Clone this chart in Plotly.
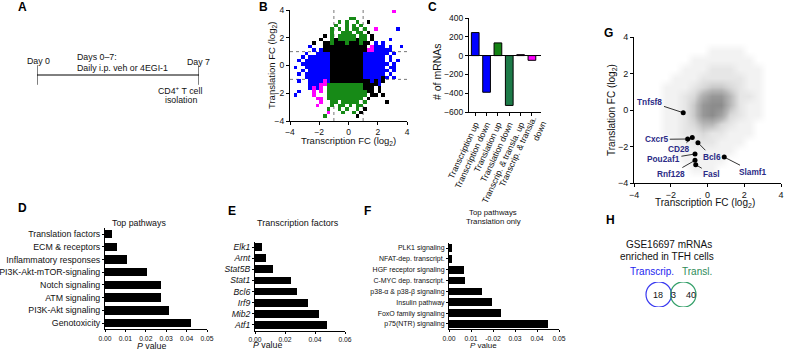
import plotly.graph_objects as go

W, H = 785, 351
FONT = "Liberation Sans, Arial, sans-serif"
TXT = "#111111"

# ------------------------------------------------------------------ data
A_DAYS = [0, 7]

# Panel B: binned scatter (0.25 log2 bins, x -4..4 left->right, y 4..-4 top->bottom)
# k = not changed, b = transcription, g = translation, m = both
B_BIN = 0.25
B_GRID = [
    "............................m...",
    "................................",
    "................gg..............",
    ".............g.g..g..k..........",
    "............g..g.g.g............",
    "...........g.g.g.gg.g..m.....b..",
    "...........g..ggg.gg.k..........",
    ".........k.g.ggggg.gg.k.........",
    "........k..gkgggggkgg.k....b....",
    "......k..kkgkkkgkkkgkk.b.b......",
    ".....b...kkkkkkkkkkkk.mbbb.b..b.",
    "......b.bkkkkkkkkkkkkmmbbbbb....",
    "....b..bbbbkkkkkkkkkbbbbbbb.b...",
    "...b.bbbbbbkkkkkkkkkbbbbbb.b....",
    "..b.bbbbbbbkkkkkkkkkbbbbbb.b.b..",
    "...bbbbbbbbkkkkkkkkkbbbbbbb.b...",
    ".b..bbbbbbbkkkkkkkkkbbbbbb.bb...",
    "...b.bbbbbbkkkkkkkkkbbbbbbb.b...",
    "..b.bbbbbbbkkkkkkkkkbbbbbb.b....",
    "....bbbbbbbkkkkkkkkkbbbbbkb.b...",
    "..b..bbbbmbkkkkkkkkkkkbkbk......",
    ".....bbbmmggggggggggkkkkb.......",
    ".....bmbm.ggggggggggkkk.k.......",
    "..b...m.m.gggggggggggkk.k.......",
    ".b....m...ggggggggggg.kk.k......",
    ".......mm.gggggggggg.k..........",
    "........m..gg.ggggg.g.....k.....",
    ".......m...g.gg.g.gg............",
    "..........g..g.g..g.k...........",
    "..........m...g..g.k............",
    ".........g........k.............",
    "................................",
]
B_CODES = {"k": 1, "b": 2, "g": 3, "m": 4}
B_THRESH = [-1, 1]

C_CATS = ["Transcription up", "Transcription down", "Translation up",
          "Translation down", "Transcrip. & transla. up",
          "Transcrip. & transla.<br>down"]
C_VALS = [245, -390, 135, -530, 10, -50]
C_COLORS = ["#0000ff", "#0000ff", "#138213", "#1d7a48", "#b022b0", "#ff00ff"]

D_CATS = ["Translation factors", "ECM & receptors", "Inflammatory responses",
          "PI3K-Akt-mTOR-signaling", "Notch signaling", "ATM signaling",
          "PI3K-Akt signaling", "Genotoxicity"]
D_VALS = [0.0034, 0.0061, 0.0107, 0.0205, 0.0275, 0.0275, 0.0316, 0.0421]

E_CATS = ["Elk1", "Arnt", "Stat5B", "Stat1", "Bcl6", "Irf9", "Mib2", "Atf1"]
E_VALS = [0.0049, 0.0076, 0.0118, 0.0240, 0.0278, 0.0353, 0.0427, 0.0478]

F_CATS = ["PLK1 signaling", "NFAT-dep. transcript.", "HGF receptor signaling",
          "C-MYC dep. transcript.", "p38-\u03b1 & p38-\u03b2 signaling",
          "Insulin pathway", "FoxO family signaling", "p75(NTR) signaling"]
F_VALS = [0.0014, 0.0014, 0.0068, 0.0074, 0.0152, 0.0194, 0.0238, 0.0452]
F_TICKVALS = [0, 0.01, 0.02, 0.03, 0.04, 0.05]
F_TICKTEXT = ["0.00", "0.01", "-0.02", "0.03", "0.04", "0.05"]

# Panel G: density of all mRNAs (0.5 log2 bins; rows y 3.75..-3.75, cols x -3.75..3.75)
G_DENSITY = [
    [0, 0, 0, 0, 0, 0, 0, 0, 0, 0, 0, 0, 0, 0, 0, 0],
    [0, 0, 0, 0, 0, 0, 0, 0, 1, 1, 1, 1, 0, 0, 0, 0],
    [0, 0, 0, 0, 0, 0, 1, 1, 1, 1, 1, 1, 1, 0, 0, 0],
    [0, 0, 0, 0, 0, 1, 1, 1, 2, 2, 2, 1, 1, 1, 0, 0],
    [0, 0, 0, 0, 1, 1, 1, 2, 2, 2, 2, 2, 1, 1, 0, 0],
    [0, 0, 0, 1, 1, 1, 2, 3, 4, 4, 3, 2, 1, 1, 0, 0],
    [0, 0, 0, 1, 1, 2, 3, 6, 8, 8, 5, 2, 2, 1, 0, 0],
    [0, 0, 0, 1, 1, 2, 4, 8, 9, 9, 5, 2, 1, 1, 0, 0],
    [0, 0, 0, 1, 1, 2, 4, 8, 9, 7, 3, 2, 1, 1, 0, 0],
    [0, 0, 0, 1, 1, 2, 3, 5, 5, 3, 2, 1, 1, 0, 0, 0],
    [0, 0, 0, 1, 1, 2, 2, 3, 2, 2, 1, 1, 1, 0, 0, 0],
    [0, 0, 0, 0, 1, 1, 2, 2, 2, 1, 1, 1, 0, 0, 0, 0],
    [0, 0, 0, 0, 1, 1, 1, 1, 1, 1, 1, 0, 0, 0, 0, 0],
    [0, 0, 0, 0, 0, 1, 1, 1, 1, 1, 0, 0, 0, 0, 0, 0],
    [0, 0, 0, 0, 0, 0, 1, 1, 1, 0, 0, 0, 0, 0, 0, 0],
    [0, 0, 0, 0, 0, 0, 0, 0, 0, 0, 0, 0, 0, 0, 0, 0],
]
G_BIN = 0.5
G_GENES = ["Tnfsf8", "Cxcr5", "CD28", "Bcl6", "Pou2af1", "Rnf128", "Fasl", "Slamf1"]
G_TX = [-1.32, -1.08, -0.83, -0.52, -0.68, -0.68, -0.64, 0.91]
G_TL = [-0.15, -1.59, -1.50, -1.79, -2.41, -2.76, -3.00, -2.58]

H_SETS = ["Transcrip.", "Transl."]
H_COUNTS = [18, 3, 40]

# ------------------------------------------------------------------ helpers
def xd(a, b):
    return [a / W, b / W]


def yd(top, bottom):
    return [1 - bottom / H, 1 - top / H]


def px(x):
    return x / W


def py(y):
    return 1 - y / H


def ax(**kw):
    base = dict(showgrid=False, zeroline=False, showline=True, linecolor="black",
                linewidth=1, ticks="outside", ticklen=3, tickwidth=1,
                tickcolor="black", fixedrange=True, automargin=False,
                tickfont=dict(size=8.5, color=TXT, family=FONT))
    base.update(kw)
    return base


def hid(**kw):
    base = dict(visible=False, fixedrange=True, automargin=False)
    base.update(kw)
    return base


fig = go.Figure()
ann = []
shapes = []

# ------------------------------------------------------------------ A
fig.add_trace(go.Scatter(x=A_DAYS, y=[0, 0], mode="lines+markers",
                         line=dict(color="black", width=1),
                         marker=dict(symbol="line-ns", size=14,
                                     line=dict(color="black", width=1)),
                         xaxis="x", yaxis="y", hoverinfo="skip"))
a_txt = [
    ("Day 0", 0.05, 0.47, "center"),
    ("i.p Ova alum", -0.39, -0.43, "left"),
    ("Days 0\u20137:", 1.64, 0.60, "left"),
    ("Daily i.p. veh or 4EGI-1", 1.64, 0.23, "left"),
    ("Day 7", 6.96, 0.43, "center"),
    ("Analysis", 7.09, 0.0, "left"),
    ("CD4<sup>+</sup> T cell", 6.18, -0.50, "center"),
    ("isolation", 6.22, -0.83, "center"),
]
for t, x, y, anc in a_txt:
    ann.append(dict(text=t, x=x, y=y, xref="x", yref="y", xanchor=anc,
                    yanchor="middle", showarrow=False,
                    font=dict(size=8.8, color=TXT, family=FONT)))

# ------------------------------------------------------------------ B
b_rows = [r.ljust(32, ".")[:32] for r in B_GRID]
b_z = [[B_CODES.get(ch) for ch in row] for row in reversed(b_rows)]
b_edges = [-4 + B_BIN * i for i in range(33)]
fig.add_trace(go.Heatmap(z=b_z, x=b_edges, y=b_edges, zmin=1, zmax=4,
                         colorscale=[[0, "#000000"], [1 / 3, "#0000ff"],
                                     [2 / 3, "#178a17"], [1, "#ff00ff"]],
                         showscale=False, hoverinfo="skip", zsmooth=False,
                         xaxis="x2", yaxis="y2"))
for t in B_THRESH:
    shapes.append(dict(type="line", xref="x2", yref="y2", x0=t, x1=t, y0=-4, y1=4,
                       line=dict(color="#777777", width=1, dash="dot"), layer="below"))
    shapes.append(dict(type="line", xref="x2", yref="y2", x0=-4, x1=4, y0=t, y1=t,
                       line=dict(color="#777777", width=1, dash="dot"), layer="below"))

# ------------------------------------------------------------------ C
fig.add_trace(go.Bar(x=list(range(len(C_VALS))), y=C_VALS, width=0.68,
                     marker=dict(color=C_COLORS, line=dict(color="black", width=1)),
                     xaxis="x3", yaxis="y3", hoverinfo="skip"))
# last (two-line) category label drawn as a rotated text block
c_ticktext = C_CATS[:-1] + [""]
ann.append(dict(text=C_CATS[-1], x=px(522), y=py(154), xref="paper", yref="paper",
                showarrow=False, textangle=-65, align="right",
                xanchor="center", yanchor="middle",
                font=dict(size=8.6, color=TXT, family=FONT)))

# ------------------------------------------------------------------ D, E, F
for vals, cats, xa, ya, w in [(D_VALS, D_CATS, "x4", "y4", 0.67),
                              (E_VALS, E_CATS, "x5", "y5", 0.69),
                              (F_VALS, F_CATS, "x6", "y6", 0.72)]:
    fig.add_trace(go.Bar(x=vals, y=cats, orientation="h", width=w,
                         marker=dict(color="black", line=dict(width=0)),
                         xaxis=xa, yaxis=ya, hoverinfo="skip"))

# ------------------------------------------------------------------ G
n = len(G_DENSITY)
g_centers = [-4 + G_BIN * (i + 0.5) for i in range(n)]
fig.add_trace(go.Heatmap(z=list(reversed(G_DENSITY)), x=g_centers, y=g_centers,
                         zmin=0, zmax=9, zsmooth="best", showscale=False,
                         colorscale=[[0, "#ffffff"], [1 / 9, "#f2f2f2"],
                                     [2 / 9, "#e6e6e6"], [3 / 9, "#d8d8d8"],
                                     [5 / 9, "#b8b8b8"], [1, "#8c8c8c"]],
                         hoverinfo="skip", xaxis="x7", yaxis="y7"))
fig.add_trace(go.Scatter(x=G_TX, y=G_TL, mode="markers",
                         marker=dict(color="black", size=5),
                         xaxis="x7", yaxis="y7", hoverinfo="skip"))
G_LABEL_AT = [(-3.13, 0.45), (-2.76, -1.61), (-1.53, -2.15), (0.23, -2.56),
              (-2.40, -2.70), (-1.99, -3.51), (0.23, -3.51), (2.46, -3.38)]
for gname, gx, gy, (lx, ly) in zip(G_GENES, G_TX, G_TL, G_LABEL_AT):
    ann.append(dict(text="<b>%s</b>" % gname, x=gx, y=gy, xref="x7", yref="y7",
                    ax=lx, ay=ly, axref="x7", ayref="y7", showarrow=True,
                    arrowhead=0, arrowwidth=0.8, arrowcolor="black", standoff=2,
                    font=dict(size=8.3, color="#2b2b86", family=FONT)))

# ------------------------------------------------------------------ H
fig.add_trace(go.Scatter(x=[1, 2], y=[0, 0], mode="markers",
                         marker=dict(symbol="circle-open", size=25.4,
                                     color=["#3a3af0", "#35a06a"],
                                     line=dict(width=1.2)),
                         xaxis="x8", yaxis="y8", hoverinfo="skip"))
for cnt, x in zip(H_COUNTS, [0.97, 1.62, 2.30]):
    ann.append(dict(text=str(cnt), x=x, y=0, xref="x8", yref="y8", showarrow=False,
                    xanchor="center", yanchor="middle",
                    font=dict(size=9, color=TXT, family=FONT)))
for s, x, col in zip(H_SETS, [652, 697], ["#2424f0", "#2e8b57"]):
    ann.append(dict(text=s, x=px(x), y=py(271), xref="paper", yref="paper",
                    xanchor="center", yanchor="middle", showarrow=False,
                    font=dict(size=10, color=col, family=FONT)))

# ------------------------------------------------------------------ free text
def label(t, x, y, size=8.8, angle=0, bold=False):
    ann.append(dict(text=("<b>%s</b>" % t) if bold else t, x=px(x), y=py(y),
                    xref="paper", yref="paper", showarrow=False, textangle=angle,
                    xanchor="center", yanchor="middle",
                    font=dict(size=size, color=TXT if not bold else "black", family=FONT)))


for L, x, y in [("A", 22, 7), ("B", 263, 7), ("C", 432, 7), ("D", 22, 208),
                ("E", 232, 211), ("F", 367, 211), ("G", 608, 33), ("H", 610, 220)]:
    label(L, x, y, size=12, bold=True)

label("Transcription FC (log<sub>2</sub>)", 348, 141, 9.5)
label("Translation FC (log<sub>2</sub>)", 272, 66, 9.5, -90)
label("# of mRNAs", 437, 72, 10.5, -90)
label("Top pathways", 139, 223, 8.8)
label("<i>P</i> value", 151, 346, 8.8)
label("Transcription factors", 298, 223, 9)
label("<i>P</i> value", 267, 345, 8.8)
label("Top pathways", 493, 213, 7.8)
label("Translation only", 493, 221, 7.8)
label("<i>P</i> value", 483, 345, 8)
label("Transcription FC (log<sub>2</sub>)", 705, 203, 10)
label("Translation FC (log<sub>2</sub>)", 612, 110, 10, -90)
label("GSE16697 mRNAs", 669, 244, 10)
label("enriched in TFH cells", 667, 256, 10)

# ------------------------------------------------------------------ layout
pv = [0, 0.01, 0.02, 0.03, 0.04, 0.05]
fig.update_layout(
    width=W, height=H, margin=dict(l=0, r=0, t=0, b=0, pad=0, autoexpand=False),
    paper_bgcolor="white", plot_bgcolor="rgba(0,0,0,0)", showlegend=False,
    font=dict(family=FONT, color=TXT), bargap=0,
    annotations=ann, shapes=shapes,
    xaxis=hid(domain=xd(37, 199), range=[0, 7], anchor="y"),
    yaxis=hid(domain=yd(45, 105), range=[-1, 1], anchor="x"),
    xaxis2=ax(domain=xd(290, 407), range=[-4, 4], tickvals=[-4, -2, 0, 2, 4], anchor="y2"),
    yaxis2=ax(domain=yd(10, 121), range=[-4, 4], tickvals=[-4, -2, 0, 2, 4], anchor="x2"),
    xaxis3=ax(domain=xd(469, 541), range=[-0.55, 5.8], tickmode="array",
              tickvals=list(range(len(C_CATS))), ticktext=c_ticktext, tickangle=-65,
              tickfont=dict(size=8.6, color=TXT, family=FONT), anchor="y3"),
    yaxis3=ax(domain=yd(18, 112), range=[-600, 400], dtick=200, zeroline=True,
              zerolinecolor="black", zerolinewidth=1, anchor="x3"),
    xaxis4=ax(domain=xd(105, 207), range=[0, 0.05], tickvals=pv,
              ticktext=["%.2f" % v for v in pv], ticklen=2,
              tickfont=dict(size=6.8, color=TXT, family=FONT), anchor="y4"),
    yaxis4=ax(domain=yd(227.7, 329.4), type="category", categoryorder="array",
              categoryarray=D_CATS, range=[len(D_CATS) - 0.5, -0.5], ticklen=2,
              tickfont=dict(size=8.8, color=TXT, family=FONT), anchor="x4"),
    xaxis5=ax(domain=xd(255, 345), range=[0, 0.06], tickvals=[0, 0.02, 0.04, 0.06],
              ticktext=["0.00", "0.02", "0.04", "0.06"], ticklen=2,
              tickfont=dict(size=6.8, color=TXT, family=FONT), anchor="y5"),
    yaxis5=ax(domain=yd(241.5, 330.5), type="category", categoryorder="array",
              categoryarray=E_CATS, range=[len(E_CATS) - 0.5, -0.5], ticklen=2,
              tickmode="array", tickvals=E_CATS,
              ticktext=["<i>%s</i>" % c for c in E_CATS],
              tickfont=dict(size=8.6, color=TXT, family=FONT), anchor="x5"),
    xaxis6=ax(domain=xd(449, 559), range=[0, 0.05], tickvals=F_TICKVALS,
              ticktext=F_TICKTEXT, ticklen=2,
              tickfont=dict(size=6.8, color=TXT, family=FONT), anchor="y6"),
    yaxis6=ax(domain=yd(242.6, 329.4), type="category", categoryorder="array",
              categoryarray=F_CATS, range=[len(F_CATS) - 0.5, -0.5], ticklen=2,
              tickfont=dict(size=7, color=TXT, family=FONT), anchor="x6"),
    xaxis7=ax(domain=xd(634, 781), range=[-4, 4], tickvals=[-4, -2, 0, 2, 4],
              tickfont=dict(size=9, color=TXT, family=FONT), anchor="y7"),
    yaxis7=ax(domain=yd(37, 183), range=[-4, 4], tickvals=[-4, -2, 0, 2, 4],
              tickfont=dict(size=9, color=TXT, family=FONT), anchor="x7"),
    xaxis8=hid(domain=xd(634.1, 707.9), range=[0, 3], anchor="y8"),
    yaxis8=hid(domain=yd(282, 307), range=[-1, 1], anchor="x8"),
)

fig.write_html("out.html", config={"displayModeBar": False, "staticPlot": True},
               post_script="document.body.style.margin='0px';"
                           "document.body.style.overflow='hidden';")
